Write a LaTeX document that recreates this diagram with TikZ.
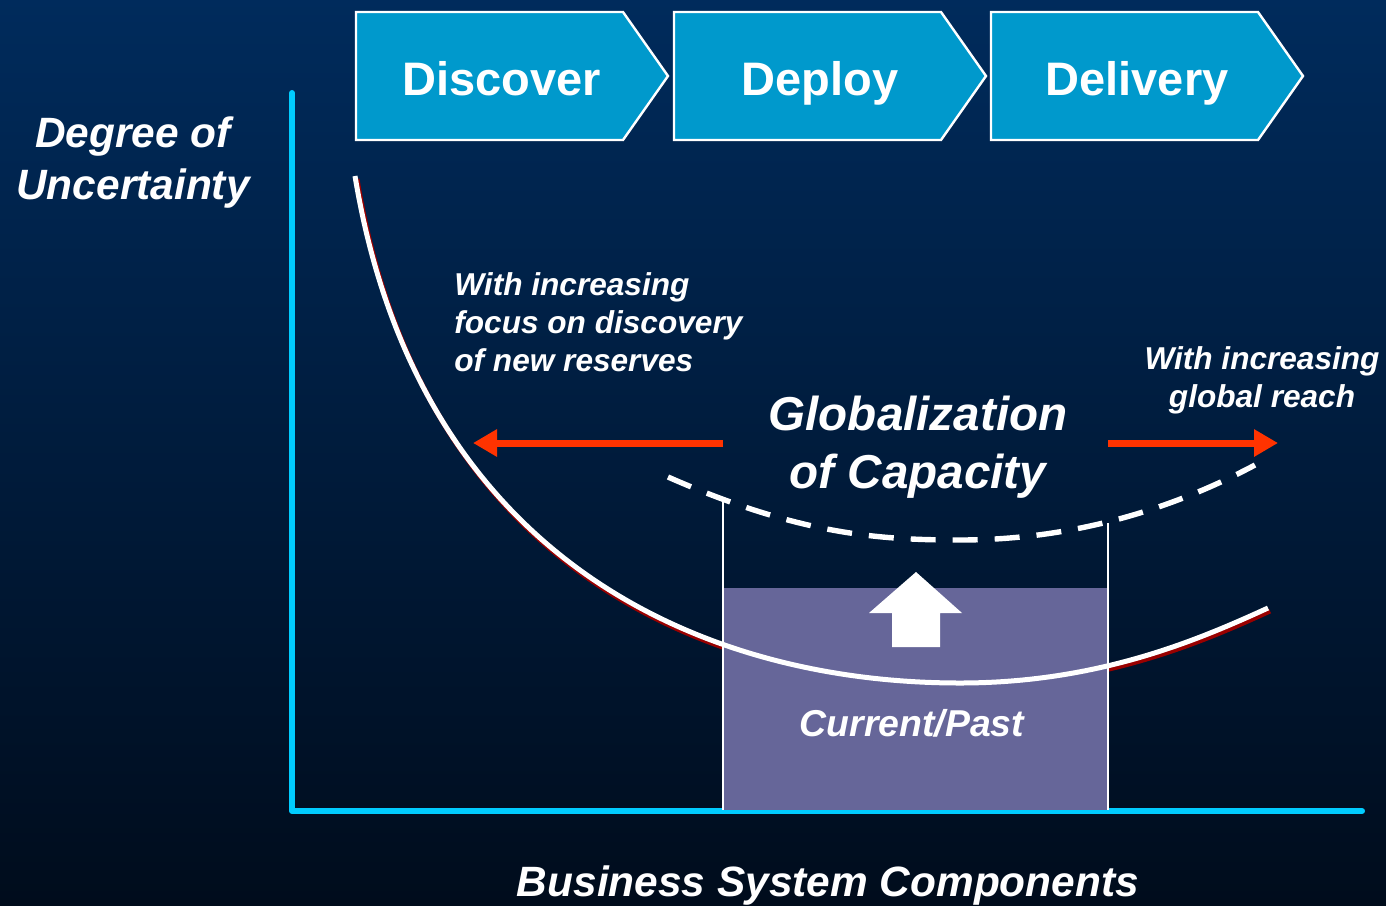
\documentclass[tikz,border=0pt]{standalone}
\usepackage{fontspec}
\setmainfont{Liberation Sans}
\usetikzlibrary{arrows.meta}
\definecolor{bgtop}{HTML}{002B5C}
\definecolor{bgbot}{HTML}{000C1C}
\definecolor{axiscyan}{HTML}{00CCFF}
\definecolor{chevfill}{HTML}{0099CC}
\definecolor{shadowred}{HTML}{990000}
\definecolor{arrowred}{HTML}{FF3300}
\definecolor{boxpurple}{HTML}{666699}
\tikzset{
  chevron/.style={fill=chevfill,draw=white,line width=1.2pt,line join=miter},
  chevtext/.style={text=white,font=\fontsize{23.5}{28}\selectfont\bfseries,inner sep=0pt,anchor=base},
  bigital/.style={text=white,font=\fontsize{21.2}{26}\selectfont\bfseries\itshape,inner sep=0pt,align=center},
  smallital/.style={text=white,font=\fontsize{15.8}{19}\selectfont\bfseries\itshape,inner sep=0pt},
  globital/.style={text=white,font=\fontsize{23.8}{29}\selectfont\bfseries\itshape,inner sep=0pt,align=center},
  axisline/.style={draw=axiscyan,line width=3pt,line cap=round,line join=round},
  redarrow/.style={draw=arrowred,line width=3.5pt,-{Triangle[length=12pt,width=13pt]}},
  dashcurve/.style={draw=white,line width=2.7pt,dash pattern=on 12.5pt off 8.5pt},
}
\begin{document}
\begin{tikzpicture}[x=0.5pt,y=-0.5pt]
\shade[top color=bgtop,bottom color=bgbot] (0,0) rectangle (1386,905);
\useasboundingbox (0,0) rectangle (1386,905);

% axes
\coordinate (ytop) at (292,93);
\coordinate (origin) at (292,811);
\coordinate (xend) at (1362,811);
\draw[axisline] (ytop) -- (origin) -- (xend);

% chevrons
\foreach \dx/\name/\lab in {0/discover/Discover,318/deploy/Deploy,635/delivery/Delivery}{
  \begin{scope}[xshift=\dx*0.5pt]
    \draw[chevron] (356,12) -- (623,12) -- (668,76) -- (623,140) -- (356,140) -- cycle;
    \node[chevtext] (\name) at (502,95) {\lab};
  \end{scope}
}

% purple box and curve shadow
\draw[shadowred,line width=2.5pt] (357,179) .. controls (420,561) and (700,686) .. (961,686) .. controls (1100,686) and (1200,643) .. (1270,611);
\fill[boxpurple] (724,588) rectangle (1107,810);
\draw[white,line width=2.5pt] (355,176) .. controls (418,558) and (700,683) .. (960,683) .. controls (1098,683) and (1198,640) .. (1268,608);

% vertical lines
\coordinate (vl1top) at (723,500);
\coordinate (vl1bot) at (723,810);
\coordinate (vl2top) at (1108,523);
\coordinate (vl2bot) at (1108,810);
\draw[white,line width=1pt] (vl1top) -- (vl1bot);
\draw[white,line width=1pt] (vl2top) -- (vl2bot);

% dashed curve
\draw[dashcurve] (668,477) .. controls (800,535) and (880,540) .. (960,540) .. controls (1080,540) and (1180,505) .. (1255,465);

% up arrow
\fill[white] (916,572) -- (962,613) -- (940,613) -- (940,647) -- (892,647) -- (892,613) -- (869,613) -- cycle;

% red arrows
\coordinate (la1) at (723,443);
\coordinate (la2) at (473,443);
\coordinate (ra1) at (1108,443);
\coordinate (ra2) at (1278,443);
\draw[redarrow] (la1) -- (la2);
\draw[redarrow] (ra1) -- (ra2);

% texts
\node[bigital] (ylabel) at (133,163) {Degree of\\Uncertainty};
\node[smallital,align=left,anchor=west] (disc) at (454,322) {With increasing\\focus on discovery\\of new reserves};
\node[smallital,align=center] (reach) at (1262,380) {With increasing\\global reach};
\node[globital] (glob) at (918,447) {Globalization\\of Capacity};
\node[text=white,font=\fontsize{18.7}{22}\selectfont\bfseries\itshape,inner sep=0pt] (curr) at (912,723) {Current/Past};
\node[text=white,font=\fontsize{21.2}{26}\selectfont\bfseries\itshape,inner sep=0pt] (xlabel) at (828,886) {Business System Components};
\end{tikzpicture}
\end{document}
